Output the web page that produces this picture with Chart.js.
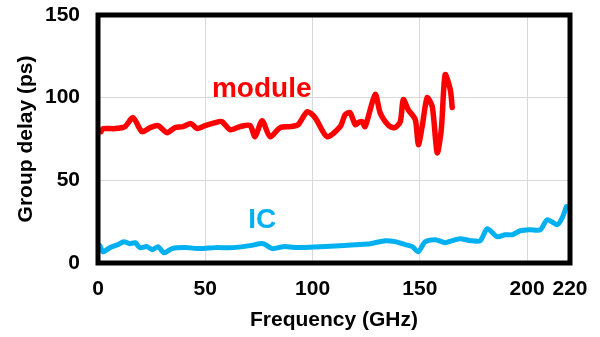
<!DOCTYPE html>
<html>
<head>
<meta charset="utf-8">
<script src="https://cdn.jsdelivr.net/npm/chart.js@4.4.1/dist/chart.umd.min.js"></script>
<style>
    html, body { margin: 0; padding: 0; background: #fff; }
    #wrap { width: 600px; height: 337px; }
</style>
</head>
<body>
<div id="wrap"><canvas id="delayChart" width="600" height="337"></canvas></div>
<script>
// group delay vs frequency, module and IC
var freqModule = [1.4, 2.3, 7.9, 12.6, 16.3, 20.5, 24.3, 28.0, 32.2, 35.9, 39.6, 43.4, 46.2, 49.9, 54.6, 57.8,
    61.6, 66.2, 70.9, 73.2, 76.5, 80.2, 84.9, 89.6, 93.3, 97.5, 101.2, 106.8, 112.9, 115.2, 117.5, 119.9,
    121.3, 123.1, 124.5, 129.2, 131.5, 133.9, 136.2, 138.5, 140.9, 142.3, 144.6, 147.9, 149.3, 151.1,
    153.4, 155.8, 158.1, 160.0, 161.8, 164.2, 165.1];
var delayModule = [79.4, 81.3, 81.3, 82.5, 87.9, 79.4, 81.9, 83.1, 78.8, 81.9, 82.5, 84.3, 81.3, 83.1, 84.9, 85.5,
    80.6, 82.5, 83.1, 76.4, 86.1, 76.4, 81.9, 82.5, 83.7, 91.5, 87.9, 76.4, 82.5, 89.7, 90.9, 83.7,
    84.9, 85.5, 82.5, 101.9, 90.9, 85.5, 82.5, 81.9, 85.5, 98.8, 92.7, 86.7, 71.6, 82.5,
    100.0, 94.6, 66.7, 80.6, 113.9, 104.9, 94.0];

var freqIC = [0.9, 2.3, 5.6, 9.3, 12.1, 14.9, 17.3, 19.6, 22.9, 25.2, 28.0, 30.8, 34.5, 40.6, 47.6, 54.6,
    63.0, 70.9, 77.0, 81.2, 86.3, 94.2, 103.5, 112.9, 119.9, 126.9, 133.9, 138.5, 143.2, 146.5, 149.3,
    152.5, 157.2, 161.8, 165.1, 168.8, 173.5, 178.2, 181.4, 186.1, 189.8, 193.1, 196.8, 201.5, 206.2,
    209.4, 214.1, 216.4, 218.3];
var delayIC = [10.5, 6.8, 9.3, 11.1, 12.9, 11.7, 12.3, 9.3, 9.9, 8.0, 9.9, 6.2, 8.7, 9.3, 8.7, 9.3,
    9.3, 10.5, 11.7, 8.7, 9.9, 9.3, 9.9, 10.5, 11.1, 11.7, 13.5, 12.9, 11.1, 9.9, 6.8,
    12.9, 14.1, 12.3, 13.5, 14.7, 13.5, 13.5, 20.7, 15.9, 17.1, 17.1, 19.5, 20.1, 20.1,
    26.2, 23.2, 27.4, 34.1];

var xTicks = [0, 50, 100, 150, 200, 220];
var yTicks = [0, 50, 100, 150];

var seriesLabels = [
    { text: 'module', x: 76.3, y: 104.8, color: '#ff0000' },
    { text: 'IC', x: 76.5, y: 25.9, color: '#00b0f0' }
];

function toPoints(xs, ys) {
    var pts = [];
    for (var i = 0; i < xs.length; i++) {
        pts.push({ x: xs[i], y: ys[i] });
    }
    return pts;
}

var fontFamily = '"Liberation Sans", Arial, sans-serif';

// thick frame round the plot plus the in-plot series names
var framePlugin = {
    id: 'frame',
    afterDatasetsDraw: function (chart) {
        var ctx = chart.ctx;
        var a = chart.chartArea;
        var xs = chart.scales.x, ys = chart.scales.y;
        ctx.save();
        ctx.font = 'bold 28px ' + fontFamily;
        ctx.textAlign = 'center';
        ctx.textBaseline = 'middle';
        seriesLabels.forEach(function (l) {
            ctx.fillStyle = l.color;
            ctx.fillText(l.text, xs.getPixelForValue(l.x), ys.getPixelForValue(l.y));
        });
        ctx.strokeStyle = '#000';
        ctx.lineWidth = 5;
        ctx.lineJoin = 'miter';
        ctx.strokeRect(a.left, a.top, a.right - a.left, a.bottom - a.top);
        ctx.restore();
    }
};

var ctx = document.getElementById('delayChart');
var chart = new Chart(ctx, {
    type: 'line',
    data: {
        datasets: [{
            label: 'module',
            data: toPoints(freqModule, delayModule),
            borderColor: '#ff0000',
            borderWidth: 5.5,
            pointRadius: 0,
            tension: 0.25,
            borderCapStyle: 'round',
            borderJoinStyle: 'round'
        }, {
            label: 'IC',
            data: toPoints(freqIC, delayIC),
            borderColor: '#00b0f0',
            borderWidth: 5,
            pointRadius: 0,
            tension: 0.25,
            borderCapStyle: 'round',
            borderJoinStyle: 'round'
        }]
    },
    options: {
        responsive: false,
        animation: false,
        layout: { padding: 0 },
        plugins: {
            legend: { display: false },
            tooltip: { enabled: false }
        },
        scales: {
            x: {
                type: 'linear',
                min: 0,
                max: 220,
                afterBuildTicks: function (scale) {
                    scale.ticks = xTicks.map(function (v) { return { value: v }; });
                },
                afterFit: function (scale) {
                    scale.height = 74;
                    scale.paddingLeft = 0;
                    scale.paddingRight = 30;
                },
                grid: { color: '#d9d9d9', lineWidth: 1, drawTicks: false },
                border: { display: false },
                ticks: {
                    padding: 14,
                    color: '#000',
                    maxRotation: 0,
                    font: { family: fontFamily, size: 21, weight: 'bold' }
                },
                title: {
                    display: true,
                    text: 'Frequency (GHz)',
                    color: '#000',
                    padding: { top: 0, bottom: 4 },
                    font: { family: fontFamily, size: 21, weight: 'bold' }
                }
            },
            y: {
                min: 0,
                max: 150,
                afterBuildTicks: function (scale) {
                    scale.ticks = yTicks.map(function (v) { return { value: v }; });
                },
                afterFit: function (scale) {
                    scale.width = 98;
                    scale.paddingTop = 15;
                    scale.paddingBottom = 0;
                },
                grid: { color: '#d9d9d9', lineWidth: 1, drawTicks: false },
                border: { display: false },
                ticks: {
                    padding: 18,
                    color: '#000',
                    font: { family: fontFamily, size: 21, weight: 'bold' }
                },
                title: {
                    display: true,
                    text: 'Group delay (ps)',
                    color: '#000',
                    padding: { top: 14, bottom: 0 },
                    font: { family: fontFamily, size: 21, weight: 'bold' }
                }
            }
        }
    },
    plugins: [framePlugin]
});
</script>
</body>
</html>
